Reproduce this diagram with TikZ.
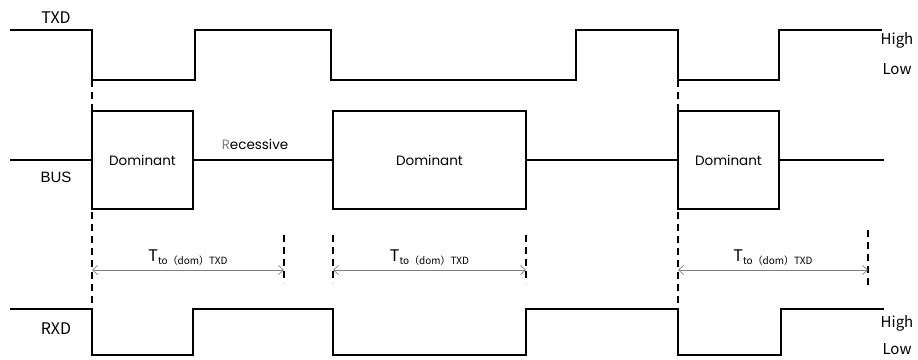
\documentclass[tikz,border=0pt]{standalone}
\usepackage{fontspec}
\setmainfont{Liberation Sans}
\newfontfamily\sigfont{Noto Sans CJK SC}
\newfontfamily\boxfont{Poppins}
\usetikzlibrary{arrows.meta}

\begin{document}
\begin{tikzpicture}[x=1pt,y=-1pt,
		wave/.style={line width=1.8pt},
		guide/.style={line width=1.6pt,dash pattern=on 7pt off 5pt},
		dombox/.style={draw,line width=1.8pt,minimum height=98pt,inner sep=0pt,font=\boxfont\fontsize{13.5}{15}\selectfont},
		span/.style={gray,line width=0.7pt,{Straight Barb[length=5pt,width=9pt]}-{Straight Barb[length=5pt,width=9pt]}},
		sig/.style={font=\sigfont\fontsize{16}{18}\selectfont},
		lvl/.style={font=\sigfont\fontsize{15}{17}\selectfont}]
		\useasboundingbox (0,0) rectangle (918,359);
		\def\hi{30}\def\lo{80}
		\def\rhi{309}\def\rlo{355}
		\def\bus{160}
		\def\tlabel{T\raisebox{-3pt}{\fontsize{10}{11}\selectfont to（dom）TXD}}
		\draw[wave] (10,\hi) -- (92,\hi) -- (92,\lo) -- (195,\lo) -- (195,\hi) -- (331,\hi) -- (331,\lo)
			-- (576,\lo) -- (576,\hi) -- (678,\hi) -- (678,\lo) -- (779,\lo) -- (779,\hi) -- (882,\hi);
		\node[sig] (txd) at (56,18) {TXD};
		\node[lvl] (txdhigh) at (897,40) {High};
		\node[lvl] (txdlow) at (897,69) {Low};
		\node[dombox,minimum width=101pt] (dom1) at (142.5,\bus) {Dominant};
		\node[dombox,minimum width=193pt] (dom2) at (429.5,\bus) {Dominant};
		\node[dombox,minimum width=101pt] (dom3) at (728.5,\bus) {Dominant};
		\coordinate (busstart) at (10,\bus);
		\coordinate (busend) at (884,\bus);
		\draw[wave] (busstart) -- (dom1.west);
		\draw[wave] (dom1.east) -- (dom2.west);
		\draw[wave] (dom2.east) -- (dom3.west);
		\draw[wave] (dom3.east) -- (busend);
		\node[font=\fontsize{15}{17}\selectfont] (bus) at (56,177) {BUS};
		\node[font=\boxfont\fontsize{13.5}{15}\selectfont] (rec) at (255,144) {{\color{gray}R}ecessive};
		\draw[guide] (92,\lo) -- (92,\rhi);
		\draw[guide] (678,\lo) -- (678,\rhi);
		\draw[guide] (284,235) -- (284,283);
		\draw[guide] (333,235) -- (333,283);
		\draw[guide] (526,235) -- (526,283);
		\draw[guide] (868,230) -- (868,285);
		\coordinate (s1) at (92,270);\coordinate (e1) at (284,270);
		\coordinate (s2) at (333,270);\coordinate (e2) at (526,270);
		\coordinate (s3) at (678,270);\coordinate (e3) at (868,270);
		\draw[span] (s1) -- node[sig,black,above=1pt] (tt1) {\tlabel} (e1);
		\draw[span] (s2) -- node[sig,black,above=1pt] (tt2) {\tlabel} (e2);
		\draw[span] (s3) -- node[sig,black,above=1pt] (tt3) {\tlabel} (e3);
		\draw[wave] (10,\rhi) -- (92,\rhi) -- (92,\rlo) -- (193,\rlo) -- (193,\rhi) -- (333,\rhi) -- (333,\rlo)
			-- (526,\rlo) -- (526,\rhi) -- (678,\rhi) -- (678,\rlo) -- (781,\rlo) -- (781,\rhi) -- (884,\rhi);
		\node[sig] (rxd) at (56,329) {RXD};
		\node[lvl] (rxdhigh) at (897,323) {High};
		\node[lvl] (rxdlow) at (897,349) {Low};
	\end{tikzpicture}
\end{document}
